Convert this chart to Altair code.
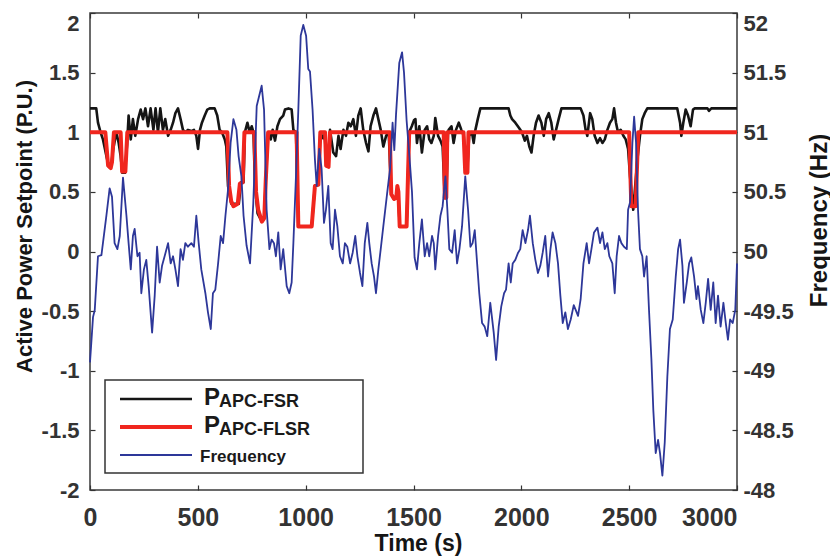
import altair as alt
import pandas as pd

# ---- P_APC-FSR (black) ----
time_fsr = [0, 29, 37, 49, 60, 76, 88, 98, 107, 122, 133, 142, 150, 162, 172, 179, 189, 199, 210, 223,
            235, 246, 257, 269, 281, 294, 304, 315, 326, 338, 349, 362, 374, 385, 396, 408, 420, 431, 442, 454,
            470, 482, 493, 501, 510, 519, 532, 544, 555, 578, 590, 601, 612, 625, 632, 640, 655, 690, 700, 712,
            718, 730, 740, 750, 758, 765, 777, 797, 808, 815, 826, 838, 847, 858, 869, 881, 896, 904, 920, 935,
            943, 955, 966, 1028, 1043, 1059, 1068, 1080, 1088, 1097, 1106, 1113, 1128, 1141, 1152, 1162, 1175, 1187, 1198, 1209,
            1221, 1233, 1244, 1255, 1267, 1280, 1291, 1301, 1314, 1326, 1337, 1348, 1360, 1373, 1385, 1397, 1410, 1422, 1428, 1436,
            1468, 1480, 1492, 1502, 1509, 1516, 1527, 1539, 1552, 1563, 1573, 1583, 1594, 1601, 1614, 1625, 1635, 1645, 1652, 1660,
            1663, 1676, 1686, 1697, 1710, 1722, 1733, 1742, 1750, 1758, 1771, 1779, 1787, 1798, 1810, 1941, 1949, 1957, 1972, 1988,
            2003, 2016, 2026, 2037, 2047, 2057, 2068, 2080, 2093, 2104, 2115, 2127, 2139, 2150, 2161, 2173, 2186, 2275, 2288, 2298,
            2306, 2319, 2329, 2340, 2353, 2365, 2376, 2387, 2399, 2411, 2422, 2430, 2439, 2448, 2461, 2473, 2484, 2495, 2504, 2519,
            2538, 2550, 2561, 2572, 2584, 2723, 2736, 2742, 2751, 2762, 2773, 2785, 2796, 2804, 2863, 2870, 2881, 3000]
p_fsr = [1.2, 1.2, 1.08, 1.0, 0.94, 0.80, 0.71, 0.72, 0.85, 1.0, 0.91, 0.80, 0.66, 0.66, 0.90, 1.14, 0.94, 1.11, 0.97, 1.11,
         1.19, 1.11, 1.2, 1.05, 1.2, 1.02, 1.2, 1.0, 1.2, 1.02, 1.11, 0.97, 1.02, 1.08, 1.16, 1.2, 1.11, 1.02, 1.0, 1.02,
         1.01, 1.02, 0.97, 0.86, 1.02, 1.08, 1.14, 1.19, 1.2, 1.2, 1.14, 1.02, 1.0, 0.94, 0.88, 0.55, 0.40, 0.40, 0.58, 0.58,
         1.0, 1.08, 1.0, 1.05, 1.0, 0.55, 0.32, 0.25, 0.28, 0.6, 1.0, 0.94, 1.02, 0.93, 1.05, 1.11, 1.14, 1.19, 1.2, 1.19,
         1.02, 1.0, 0.21, 0.21, 0.55, 0.56, 1.0, 0.95, 0.98, 0.74, 0.80, 1.02, 0.83, 0.80, 0.97, 0.86, 1.02, 0.97, 1.08, 1.05,
         1.11, 0.97, 1.14, 1.2, 1.02, 0.91, 0.84, 1.05, 1.14, 1.2, 1.11, 1.02, 0.88, 0.97, 1.0, 0.48, 0.44, 0.47, 0.52, 0.21,
         0.21, 1.0, 1.05, 1.1, 1.11, 0.91, 1.05, 0.83, 1.02, 1.05, 0.94, 0.91, 0.97, 1.12, 0.97, 0.93, 0.88, 0.45, 0.45, 1.0,
         1.02, 1.05, 0.91, 1.02, 1.08, 1.02, 0.97, 0.66, 0.70, 0.97, 1.0, 0.91, 1.02, 1.11, 1.2, 1.2, 1.14, 1.11, 1.08, 1.04,
         1.0, 0.93, 0.97, 0.88, 0.83, 0.97, 1.08, 1.14, 1.08, 0.97, 1.11, 1.16, 1.08, 0.94, 1.02, 1.11, 1.2, 1.2, 1.14, 1.02,
         0.97, 1.16, 1.11, 0.97, 0.91, 0.95, 0.91, 0.94, 1.02, 1.08, 1.11, 1.2, 1.08, 1.0, 1.02, 0.97, 0.94, 0.86, 0.63, 0.35,
         0.77, 0.97, 1.11, 1.16, 1.2, 1.2, 1.08, 0.97, 1.08, 1.19, 1.14, 1.05, 1.19, 1.2, 1.2, 1.18, 1.2, 1.2]

# ---- P_APC-FLSR (red) ----
time_flsr = [0, 71, 84, 96, 102, 111, 142, 149, 164, 173, 637, 645, 655, 665, 685, 695, 708, 716, 762, 770,
             780, 797, 808, 815, 826, 958, 966, 1028, 1043, 1059, 1068, 1090, 1095, 1106, 1113, 1390, 1397, 1410, 1420, 1425,
             1430, 1436, 1468, 1480, 1640, 1645, 1652, 1657, 1732, 1740, 1750, 1755, 2500, 2510, 2530, 2542, 3000]
p_flsr = [1.0, 1.0, 0.72, 0.70, 0.75, 1.0, 1.0, 0.67, 0.67, 1.0, 1.0, 0.55, 0.42, 0.38, 0.40, 0.57, 0.58, 1.0, 1.0, 0.5,
          0.35, 0.25, 0.28, 0.6, 1.0, 1.0, 0.21, 0.21, 0.55, 0.56, 1.0, 1.0, 0.72, 0.71, 1.0, 1.0, 0.48, 0.44, 0.45, 0.55,
          0.50, 0.21, 0.21, 1.0, 1.0, 0.45, 0.45, 1.0, 1.0, 0.66, 0.66, 1.0, 1.0, 0.38, 0.38, 1.0, 1.0]

# ---- Grid frequency (blue, Hz) ----
time_freq = [0, 14, 22, 37, 53, 60, 76, 91, 102, 114, 127, 138, 153, 169, 179, 189, 199, 207, 220, 230,
             238, 250, 261, 272, 288, 300, 311, 323, 334, 346, 362, 374, 385, 396, 408, 420, 431, 442, 454, 470,
             482, 493, 504, 516, 535, 547, 560, 570, 581, 594, 606, 617, 628, 640, 652, 665, 679, 689, 702, 712,
             726, 742, 757, 773, 796, 807, 819, 832, 842, 853, 862, 873, 884, 896, 912, 924, 935, 943, 955, 966,
             977, 989, 1002, 1012, 1020, 1032, 1043, 1051, 1063, 1074, 1085, 1094, 1105, 1116, 1125, 1136, 1147, 1159, 1172, 1182,
             1193, 1206, 1218, 1230, 1240, 1252, 1263, 1274, 1286, 1295, 1306, 1317, 1326, 1337, 1348, 1360, 1376, 1391, 1403, 1411,
             1419, 1434, 1447, 1456, 1468, 1481, 1493, 1505, 1516, 1527, 1539, 1552, 1563, 1573, 1586, 1594, 1601, 1614, 1625, 1635,
             1648, 1657, 1666, 1679, 1691, 1702, 1713, 1725, 1740, 1753, 1764, 1774, 1784, 1795, 1805, 1818, 1830, 1842, 1856, 1872,
             1883, 1895, 1907, 1920, 1929, 1941, 1951, 1960, 1972, 1985, 1995, 2006, 2019, 2031, 2040, 2053, 2065, 2077, 2088, 2099,
             2111, 2124, 2135, 2145, 2158, 2170, 2181, 2192, 2204, 2216, 2229, 2243, 2252, 2263, 2275, 2288, 2303, 2314, 2325, 2337,
             2353, 2365, 2376, 2387, 2399, 2408, 2422, 2433, 2442, 2453, 2464, 2476, 2489, 2495, 2504, 2515, 2523, 2532, 2541, 2550,
             2561, 2569, 2581, 2592, 2603, 2612, 2623, 2634, 2643, 2654, 2665, 2677, 2689, 2702, 2716, 2727, 2736, 2747, 2754, 2767,
             2778, 2788, 2801, 2812, 2819, 2832, 2844, 2855, 2866, 2878, 2890, 2901, 2912, 2924, 2937, 2948, 2958, 2968, 2980, 2992,
             3000]
freq_hz = [49.07, 49.45, 49.51, 49.96, 49.97, 50.07, 50.30, 50.53, 50.46, 50.07, 50.02, 50.13, 50.62, 50.30, 50.07, 49.85, 50.13, 50.19, 49.96, 49.99,
           49.65, 49.85, 49.93, 49.71, 49.32, 49.63, 50.04, 49.74, 49.88, 49.96, 50.07, 49.90, 49.96, 49.85, 49.71, 50.02, 49.93, 50.07, 50.04, 50.07,
           50.04, 50.30, 50.07, 49.85, 49.65, 49.49, 49.35, 49.65, 49.68, 49.90, 50.13, 50.07, 50.30, 50.52, 50.91, 51.11, 51.02, 50.80, 50.63, 50.30,
           50.05, 49.90, 50.40, 51.22, 51.39, 51.19, 50.35, 50.02, 50.10, 50.07, 49.96, 50.16, 49.85, 50.02, 49.71, 49.65, 49.74, 50.07, 50.63, 51.19,
           51.81, 51.90, 51.81, 51.53, 51.51, 51.19, 50.77, 50.55, 50.86, 50.69, 50.24, 50.35, 50.55, 50.07, 50.02, 50.35, 50.21, 49.96, 49.90, 50.07,
           50.04, 49.90, 49.99, 50.13, 49.96, 49.82, 49.71, 50.07, 50.24, 50.07, 49.90, 49.79, 49.65, 49.85, 50.02, 50.21, 50.46, 50.69, 51.08, 50.85,
           51.15, 51.58, 51.67, 51.50, 51.10, 50.80, 50.50, 49.95, 49.85, 50.07, 50.27, 49.96, 50.07, 49.96, 50.13, 50.07, 49.85, 50.13, 50.30, 50.38,
           50.63, 50.35, 50.02, 49.99, 50.18, 49.90, 50.02, 50.21, 50.63, 50.35, 50.04, 50.07, 50.18, 49.90, 49.65, 49.40, 49.37, 49.29, 49.57, 49.32,
           49.09, 49.37, 49.54, 49.65, 49.68, 49.90, 49.74, 49.90, 49.93, 49.99, 50.02, 50.18, 50.07, 50.18, 50.30, 50.07, 49.93, 49.82, 49.88, 49.99,
           50.13, 49.79, 50.02, 50.16, 50.07, 49.90, 49.63, 49.40, 49.49, 49.35, 49.43, 49.55, 49.51, 49.46, 49.60, 49.90, 50.07, 49.90, 50.02, 50.16,
           50.20, 50.07, 50.16, 50.02, 50.07, 49.96, 49.90, 49.65, 49.96, 50.13, 50.07, 50.04, 50.02, 50.35, 50.41, 50.91, 51.13, 50.91, 50.35, 50.02,
           49.96, 49.79, 49.96, 49.51, 49.10, 48.67, 48.31, 48.42, 48.31, 48.12, 48.40, 48.95, 49.35, 49.43, 49.79, 50.02, 50.10, 49.88, 49.57, 49.74,
           49.90, 49.95, 49.79, 49.60, 49.71, 49.51, 49.40, 49.57, 49.77, 49.51, 49.74, 49.40, 49.63, 49.37, 49.57, 49.40, 49.26, 49.43, 49.40, 49.51,
           49.90]

# ---- axis ticks ----
x_ticks = [0, 500, 1000, 1500, 2000, 2500, 3000]
p_ticks = [-2, -1.5, -1, -0.5, 0, 0.5, 1, 1.5, 2]
f_ticks = [48, 48.5, 49, 49.5, 50, 50.5, 51, 51.5, 52]

W, H = 647, 477
FONT = "Liberation Sans"
INK = "#333333"
TITLE_INK = "#151515"
BLACK = "#151515"
RED = "#f0261e"
BLUE = "#2d3799"

fsr_df = pd.DataFrame({"t": time_fsr, "p": p_fsr})
flsr_df = pd.DataFrame({"t": time_flsr, "p": p_flsr})
freq_df = pd.DataFrame({"t": time_freq, "f": freq_hz})

x_scale = alt.Scale(domain=[0, 3000], nice=False, zero=False)
p_scale = alt.Scale(domain=[-2, 2], nice=False, zero=False)
f_scale = alt.Scale(domain=[48, 52], nice=False, zero=False)

# inward ticks: pull each axis 5px inside the frame and let the 5px ticks reach back to it
tick_style = dict(offset=-5, domain=False, ticks=True, tickSize=5, tickColor=INK, tickWidth=1.2,
                  grid=False, labelFont=FONT, labelFontWeight="bold", labelColor=INK,
                  labelOverlap=False, labelFlush=False)
title_style = dict(titleFont=FONT, titleFontWeight="bold", titleColor=TITLE_INK)

bottom_axis = alt.Axis(
    orient="bottom", values=x_ticks, format="d", labelFontSize=25, labelPadding=15,
    labelAlign={"condition": {"test": "datum.value == 3000", "value": "right"}, "value": "center"},
    title="Time (s)", titleFontSize=23, titleX=328, titleY=65, titleAlign="center",
    titleBaseline="alphabetic", **tick_style, **title_style)

top_axis = alt.Axis(orient="top", values=x_ticks, labels=False, title=None, **tick_style)

left_axis = alt.Axis(
    orient="left", values=p_ticks, labelExpr="toString(datum.value)", labelFontSize=22, labelPadding=11,
    labelBaseline={"condition": {"test": "datum.value == 2", "value": "top"}, "value": "middle"},
    title="Active Power Setpoint (P.U.)", titleFontSize=22, titleAngle=270, titleX=-71, titleY=213,
    titleAlign="center", titleBaseline="middle", **tick_style, **title_style)

right_axis = alt.Axis(
    orient="right", values=f_ticks,
    labelExpr="datum.value < 50 ? '-' + toString(datum.value) : toString(datum.value)",
    labelFontSize=22, labelPadding=6,
    labelBaseline={"condition": {"test": "datum.value == 52", "value": "top"}, "value": "middle"},
    title="Frequency (Hz)", titleFontSize=24, titleAngle=270, titleX=87, titleY=207,
    titleAlign="center", titleBaseline="middle", **tick_style, **title_style)

fsr_line = alt.Chart(fsr_df).mark_line(color=BLACK, strokeWidth=2.6, strokeJoin="round").encode(
    x=alt.X("t:Q", scale=x_scale, axis=bottom_axis),
    y=alt.Y("p:Q", scale=p_scale, axis=left_axis),
    order="t:Q",
)
flsr_line = alt.Chart(flsr_df).mark_line(color=RED, strokeWidth=4, strokeJoin="round").encode(
    x=alt.X("t:Q", scale=x_scale, axis=bottom_axis),
    y=alt.Y("p:Q", scale=p_scale, axis=left_axis),
    order="t:Q",
)
power = alt.layer(fsr_line, flsr_line)

freq_line = alt.Chart(freq_df).mark_line(color=BLUE, strokeWidth=1.8, strokeJoin="round").encode(
    x=alt.X("t:Q", scale=x_scale, axis=top_axis),
    y=alt.Y("f:Q", scale=f_scale, axis=right_axis),
    order="t:Q",
)

# ---- legend box ----
one = pd.DataFrame({"k": [0]})
legend_box = alt.Chart(one).mark_rect(fill="white", stroke=INK, strokeWidth=1.5).encode(
    x=alt.value(15), x2=alt.value(273), y=alt.value(367), y2=alt.value(460))
leg_black = alt.Chart(one).mark_rule(color=BLACK, strokeWidth=2.6).encode(
    x=alt.value(30), x2=alt.value(102), y=alt.value(386))
leg_red = alt.Chart(one).mark_rule(color=RED, strokeWidth=4).encode(
    x=alt.value(30), x2=alt.value(102), y=alt.value(414))
leg_blue = alt.Chart(one).mark_rule(color=BLUE, strokeWidth=1.8).encode(
    x=alt.value(30), x2=alt.value(102), y=alt.value(442))


def legend_text(txt, x, y, size):
    return alt.Chart(one).mark_text(
        text=txt, align="left", baseline="alphabetic", font=FONT, fontWeight="bold",
        fontSize=size, color="#1a1a1a").encode(x=alt.value(x), y=alt.value(y))


legend = alt.layer(
    legend_box, leg_black, leg_red, leg_blue,
    legend_text("P", 114, 392, 24), legend_text("APC-FSR", 129, 394, 18),
    legend_text("P", 114, 420, 24), legend_text("APC-FLSR", 129, 422, 18),
    legend_text("Frequency", 110, 449, 17),
)

chart = alt.layer(power, freq_line, legend).resolve_scale(
    y="independent").resolve_axis(x="independent", y="independent").properties(
    width=W, height=H,
    autosize=alt.AutoSizeParams(type="none"),
    padding={"left": 90, "top": 13, "right": 830 - 90 - W, "bottom": 560 - 13 - H},
    background="white",
).configure_view(stroke="#3a3a3a", strokeWidth=1.5)

chart.save("out.html", embed_options={"renderer": "svg", "actions": False})
